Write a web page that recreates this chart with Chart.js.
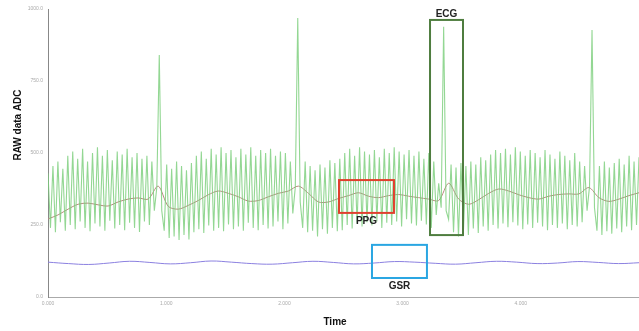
<!DOCTYPE html>
<html><head><meta charset="utf-8">
<script src="https://cdn.jsdelivr.net/npm/chart.js@4.4.1/dist/chart.umd.min.js"></script>
<style>html,body{margin:0;padding:0;background:#fff}#wrap{width:639px;height:331px}</style>
</head><body><div id="wrap"><canvas id="c"></canvas></div>
<script>
const timeRange = [0, 5];
const yTicks = [0, 250, 500, 750, 1000];
const xTicks = [0, 1, 2, 3, 4, 5];

const ecg = [
430,240,455,225,470,260,445,230,490,250,
505,235,480,262,515,240,470,228,500,255,
520,245,490,230,510,265,475,238,505,250,
495,232,515,258,485,240,500,226,480,262,
490,250,470,300,380,840,300,230,460,205,
445,210,470,198,455,215,440,200,465,225,
490,235,505,222,480,248,515,230,495,240,
520,228,500,252,510,235,485,245,515,230,
495,258,520,240,490,232,510,250,500,238,
515,245,490,262,505,235,500,255,470,290,
380,969,330,240,470,225,455,230,440,210,
460,235,450,220,475,240,465,228,480,232,
500,250,515,238,490,255,520,245,505,260,
495,248,510,262,485,240,515,258,500,250,
520,262,505,245,495,270,510,255,490,248,
505,265,480,252,500,240,470,285,395,310,
938,300,270,460,225,450,210,465,230,455,
215,470,238,460,222,485,245,475,230,495,
250,510,238,500,255,515,242,495,260,520,
248,505,235,490,252,510,240,500,258,485,
245,510,232,495,250,480,240,505,255,490,
235,475,250,500,245,470,260,455,300,385,
927,310,230,455,215,470,228,450,220,465,
238,480,225,460,245,490,232,470,250,485
];
const ppg = [
271,285,305,322,326,320,316,330,340,344,
340,385,315,305,318,335,355,368,360,348,
333,335,348,360,368,385,360,330,330,342,
352,362,350,345,352,356,350,345,340,335,
395,340,322,338,360,375,368,355,345,340,
350,356,358,358,380,345,332,340,352,362
];
const gsr = [121,116,113,118,124,120,115,119,125,121,116,114,119,124,120,115,118,123,121,117,114,119,124,121,116,118,123,120,116,119];

// annotation boxes in data units
const boxLabels = ['ECG', 'PPG', 'GSR'];
const boxX0 = [3.232, 2.462, 2.741];
const boxX1 = [3.511, 2.927, 3.206];
const boxYTop = [962, 406, 181];
const boxYBottom = [215, 292, 66];
const boxColors = ['#4f7d3f', '#e0402e', '#2aa6e2'];
const boxLabelAbove = [true, false, false];

function toPts(arr) {
  const n = arr.length;
  return arr.map((v, i) => ({ x: timeRange[0] + (timeRange[1] - timeRange[0]) * i / (n - 1), y: v }));
}

const annot = {
  id: 'annot',
  afterDatasetsDraw(chart) {
    const ctx = chart.ctx, xs = chart.scales.x, ys = chart.scales.y;
    ctx.save();
    for (let i = 0; i < boxLabels.length; i++) {
      const l = xs.getPixelForValue(boxX0[i]), r = xs.getPixelForValue(boxX1[i]);
      const t = ys.getPixelForValue(boxYTop[i]), b = ys.getPixelForValue(boxYBottom[i]);
      ctx.strokeStyle = boxColors[i]; ctx.lineWidth = 2;
      ctx.strokeRect(l, t, r - l, b - t);
      ctx.fillStyle = '#222'; ctx.font = 'bold 10px "Liberation Sans", Arial, sans-serif';
      ctx.textAlign = 'center';
      if (boxLabelAbove[i]) { ctx.textBaseline = 'bottom'; ctx.fillText(boxLabels[i], (l + r) / 2, t - 1); }
      else { ctx.textBaseline = 'top'; ctx.fillText(boxLabels[i], (l + r) / 2, b + 3); }
    }
    ctx.fillStyle = '#111';
    ctx.font = 'bold 10px "Liberation Sans", Arial, sans-serif';
    ctx.textAlign = 'center'; ctx.textBaseline = 'middle';
    ctx.fillText('Time', 335, 322);
    ctx.translate(18, 125); ctx.rotate(-Math.PI / 2);
    ctx.fillText('RAW data ADC', 0, 0);
    ctx.restore();
  }
};

new Chart(document.getElementById('c'), {
  type: 'line',
  data: {
    datasets: [
      { label: 'GSR', data: toPts(gsr), borderColor: '#8b80e0', borderWidth: 1, pointRadius: 0, tension: 0.4 },
      { label: 'ECG', data: toPts(ecg), borderColor: 'rgba(120,205,120,0.8)', borderWidth: 1.1, pointRadius: 0, tension: 0 },
      { label: 'PPG', data: toPts(ppg), borderColor: '#b88a80', borderWidth: 1, pointRadius: 0, tension: 0.3 }
    ]
  },
  options: {
    responsive: true, maintainAspectRatio: false, animation: false,
    layout: { padding: { top: 9, right: 0, left: 0, bottom: 0 } },
    plugins: { legend: { display: false }, tooltip: { enabled: false } },
    scales: {
      x: {
        type: 'linear', min: timeRange[0], max: timeRange[1],
        afterBuildTicks: s => { s.ticks = xTicks.map(v => ({ value: v })); },
        afterFit: s => { s.height = 34; s.paddingRight = 0; },
        grid: { display: false, drawTicks: true, tickLength: 3, color: '#999' },
        border: { color: '#aaa', width: 1 },
        ticks: { font: { size: 5 }, color: '#aaa', padding: 1, maxRotation: 0,
                 callback: (v, i, arr) => i === arr.length - 1 ? '' : v.toFixed(3) }
      },
      y: {
        min: 0, max: 1000,
        afterBuildTicks: s => { s.ticks = yTicks.map(v => ({ value: v })); },
        afterFit: s => { s.width = 48; },
        grid: { display: false, drawTicks: true, tickLength: 3, color: '#999' },
        border: { color: '#888', width: 1 },
        ticks: { font: { size: 5 }, color: '#aaa', padding: 2, callback: v => v.toFixed(1) }
      }
    }
  },
  plugins: [annot]
});
</script>
</body></html>
